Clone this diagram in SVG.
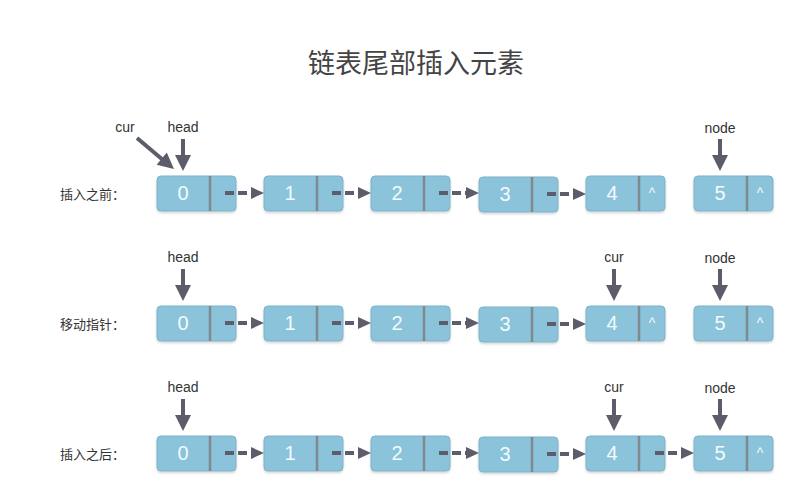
<svg xmlns="http://www.w3.org/2000/svg" width="788" height="490" viewBox="0 0 788 490">
<defs>
<style>
.bg{fill:#ffffff}
.box{fill:#8AC3DA;stroke:#7FB3C9;stroke-width:1}
.div{stroke:#7E8A90;stroke-width:2.5}
.num{font-family:"Liberation Sans","Noto Sans",sans-serif;font-size:20px;fill:#f4fafd;text-anchor:middle}
.nul{font-family:"Liberation Sans","Noto Sans",sans-serif;font-size:14px;fill:#f4fafd;text-anchor:middle}
.lbl{font-family:"Liberation Sans","Noto Sans",sans-serif;font-size:14px;fill:#333333;text-anchor:middle}
.row{font-family:"Noto Sans CJK SC","Noto Sans",sans-serif;font-size:13px;fill:#333333}
.title{font-family:"Noto Sans CJK SC","Noto Sans",sans-serif;font-size:27px;fill:#444444;text-anchor:middle}
.link{stroke:#5D5C6B;stroke-width:4;stroke-dasharray:9 4;fill:none}
.ptr{stroke:#5D5C6B;stroke-width:4;fill:none}
.head{fill:#5D5C6B}
</style>
<filter id="sh" x="-10%" y="-20%" width="120%" height="150%">
<feDropShadow dx="0" dy="1.5" stdDeviation="1.2" flood-color="#000" flood-opacity="0.18"/>
</filter>
<marker id="ah" markerUnits="userSpaceOnUse" markerWidth="13" markerHeight="12" refX="0" refY="6" orient="auto">
<path d="M0,0 L13,6 L0,12 z" class="head"/>
</marker>
<g id="nodeTpl">
<rect x="0" y="0" width="79" height="35" rx="4" class="box" filter="url(#sh)"/>
<line x1="53" y1="0" x2="53" y2="35" class="div"/>
</g>
</defs>
<rect class="bg" x="0" y="0" width="788" height="490"/>
<text class="title" x="416" y="73">链表尾部插入元素</text>

<text class="row" x="60" y="199">插入之前：</text>
<text class="row" x="60" y="329">移动指针：</text>
<text class="row" x="60" y="459">插入之后：</text>

<text class="lbl" x="125" y="132">cur</text>
<text class="lbl" x="183" y="132">head</text>
<text class="lbl" x="720" y="133">node</text>
<text class="lbl" x="183" y="262">head</text>
<text class="lbl" x="614" y="262">cur</text>
<text class="lbl" x="720" y="263">node</text>
<text class="lbl" x="183" y="392">head</text>
<text class="lbl" x="614" y="392">cur</text>
<text class="lbl" x="720" y="393">node</text>

<g id="r1n0"><use href="#nodeTpl" x="157" y="176"/><text class="num" x="183" y="200">0</text></g>
<g id="r1n1"><use href="#nodeTpl" x="264" y="176"/><text class="num" x="290" y="200">1</text></g>
<g id="r1n2"><use href="#nodeTpl" x="371" y="176"/><text class="num" x="397" y="200">2</text></g>
<g id="r1n3"><use href="#nodeTpl" x="479" y="177"/><text class="num" x="505" y="201">3</text></g>
<g id="r1n4"><use href="#nodeTpl" x="586" y="176"/><text class="num" x="612" y="200">4</text><text class="nul" x="652" y="198">^</text></g>
<g id="r1n5"><use href="#nodeTpl" x="694" y="176"/><text class="num" x="720" y="200">5</text><text class="nul" x="760" y="198">^</text></g>

<g id="r2n0"><use href="#nodeTpl" x="157" y="306"/><text class="num" x="183" y="330">0</text></g>
<g id="r2n1"><use href="#nodeTpl" x="264" y="306"/><text class="num" x="290" y="330">1</text></g>
<g id="r2n2"><use href="#nodeTpl" x="371" y="306"/><text class="num" x="397" y="330">2</text></g>
<g id="r2n3"><use href="#nodeTpl" x="479" y="307"/><text class="num" x="505" y="331">3</text></g>
<g id="r2n4"><use href="#nodeTpl" x="586" y="306"/><text class="num" x="612" y="330">4</text><text class="nul" x="652" y="328">^</text></g>
<g id="r2n5"><use href="#nodeTpl" x="694" y="306"/><text class="num" x="720" y="330">5</text><text class="nul" x="760" y="328">^</text></g>

<g id="r3n0"><use href="#nodeTpl" x="157" y="436"/><text class="num" x="183" y="460">0</text></g>
<g id="r3n1"><use href="#nodeTpl" x="264" y="436"/><text class="num" x="290" y="460">1</text></g>
<g id="r3n2"><use href="#nodeTpl" x="371" y="436"/><text class="num" x="397" y="460">2</text></g>
<g id="r3n3"><use href="#nodeTpl" x="479" y="437"/><text class="num" x="505" y="461">3</text></g>
<g id="r3n4"><use href="#nodeTpl" x="586" y="436"/><text class="num" x="612" y="460">4</text></g>
<g id="r3n5"><use href="#nodeTpl" x="694" y="436"/><text class="num" x="720" y="460">5</text><text class="nul" x="760" y="458">^</text></g>

<g id="connectors">
<line class="link" x1="225" y1="193" x2="251" y2="193" marker-end="url(#ah)"/>
<line class="link" x1="332" y1="193" x2="358" y2="193" marker-end="url(#ah)"/>
<line class="link" x1="439" y1="193" x2="466" y2="193" marker-end="url(#ah)"/>
<line class="link" x1="547" y1="194" x2="573" y2="194" marker-end="url(#ah)"/>

<line class="link" x1="225" y1="323" x2="251" y2="323" marker-end="url(#ah)"/>
<line class="link" x1="332" y1="323" x2="358" y2="323" marker-end="url(#ah)"/>
<line class="link" x1="439" y1="323" x2="466" y2="323" marker-end="url(#ah)"/>
<line class="link" x1="547" y1="324" x2="573" y2="324" marker-end="url(#ah)"/>

<line class="link" x1="225" y1="453" x2="251" y2="453" marker-end="url(#ah)"/>
<line class="link" x1="332" y1="453" x2="358" y2="453" marker-end="url(#ah)"/>
<line class="link" x1="439" y1="453" x2="466" y2="453" marker-end="url(#ah)"/>
<line class="link" x1="547" y1="454" x2="573" y2="454" marker-end="url(#ah)"/>
<line class="link" x1="655" y1="453" x2="681" y2="453" marker-end="url(#ah)"/>

<line class="ptr" x1="137" y1="138" x2="163" y2="160"/>
<polygon class="head" points="174,169 156.6,164.8 166.8,152.6"/>
<line class="ptr" x1="183" y1="139" x2="183" y2="156"/>
<polygon class="head" points="175,155 191,155 183,171"/>
<line class="ptr" x1="720" y1="139" x2="720" y2="156"/>
<polygon class="head" points="712,155 728,155 720,171"/>

<line class="ptr" x1="183" y1="269" x2="183" y2="286"/>
<polygon class="head" points="175,285 191,285 183,301"/>
<line class="ptr" x1="614" y1="269" x2="614" y2="286"/>
<polygon class="head" points="606,285 622,285 614,301"/>
<line class="ptr" x1="720" y1="269" x2="720" y2="286"/>
<polygon class="head" points="712,285 728,285 720,301"/>

<line class="ptr" x1="183" y1="399" x2="183" y2="416"/>
<polygon class="head" points="175,415 191,415 183,431"/>
<line class="ptr" x1="614" y1="399" x2="614" y2="416"/>
<polygon class="head" points="606,415 622,415 614,431"/>
<line class="ptr" x1="720" y1="399" x2="720" y2="416"/>
<polygon class="head" points="712,415 728,415 720,431"/>
</g>
</svg>
